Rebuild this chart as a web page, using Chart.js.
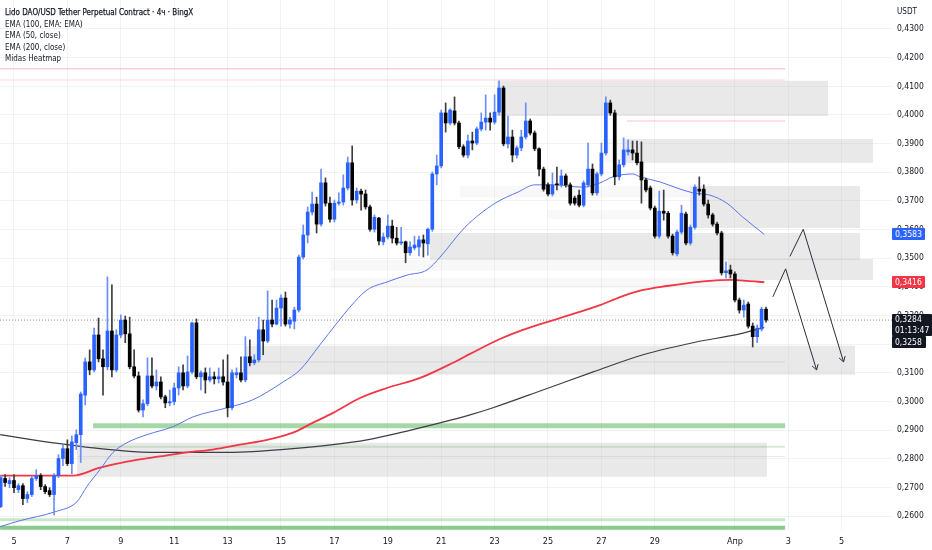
<!DOCTYPE html>
<html><head><meta charset="utf-8">
<script src="https://cdn.jsdelivr.net/npm/chart.js@4.4.1/dist/chart.umd.min.js"></script>
<style>
html,body{margin:0;padding:0;background:#fff;}
#wrap{position:relative;width:932px;height:550px;overflow:hidden;background:#fff;}
#c{position:absolute;left:0;top:0;}
.legend{position:absolute;left:5px;top:6px;font-family:'Liberation Sans Narrow','DejaVu Sans Condensed',sans-serif;font-size:9.5px;line-height:11.5px;color:#131722;white-space:nowrap;transform:scaleX(0.84);transform-origin:0 0;}
.legend .t{-webkit-text-stroke:0.25px #131722;}
.unit{position:absolute;left:897px;top:6px;font-family:'Liberation Sans Narrow','DejaVu Sans Condensed',sans-serif;font-size:9px;color:#131722;transform:scaleX(0.9);transform-origin:0 0;}
.tag{position:absolute;left:892px;box-sizing:border-box;padding-left:3px;font-family:'Liberation Sans Narrow','DejaVu Sans Condensed',sans-serif;font-size:8.5px;line-height:12px;height:12px;color:#fff;border-radius:1px;white-space:nowrap;}
</style></head>
<body>
<div id="wrap">
<canvas id="c" width="932" height="550"></canvas>
<div class="legend">
<div class="t">Lido DAO/USD Tether Perpetual Contract · 4ч · BingX</div>
<div>EMA (100, EMA: EMA)</div>
<div>EMA (50, close)</div>
<div>EMA (200, close)</div>
<div>Midas Heatmap</div>
</div>
<div class="unit">USDT</div>
<div id="tag50" class="tag" style="background:#2962ff;width:33px;"></div>
<div id="tag100" class="tag" style="background:#f23645;width:33px;"></div>
<div id="tagLast" class="tag" style="background:#131722;width:40px;height:22px;line-height:11px;"></div>
<div id="tag200" class="tag" style="background:#131722;width:34px;"></div>
</div>
<script>
// ---- candle data (4h bars, first bar = 4 Mar 12:00) ----
const firstBarDay = 4.5;
const barsPerDay = 6;
const open = [.2633,.2731,.2713,.2724,.2692,.2706,.2661,.2675,.2731,.2741,.2703,.2689,.2675,.2741,.2801,.2835,.2783,.2856,.2884,.3022,
.3138,.3110,.3232,.3149,.3121,.3246,.3110,.3232,.3284,.3236,.3121,.3089,.2970,.2992,.3089,.3054,.3068,.3016,.2995,.2999,
.3047,.3100,.3054,.3103,.3274,.3086,.3100,.3075,.3086,.3079,.3086,.3068,.2978,.3093,.3100,.3075,.3156,.3135,.3145,.3250,
.3211,.3284,.3270,.3326,.3361,.3270,.3280,.3319,.3504,.3581,.3661,.3689,.3619,.3763,.3692,.3636,.3692,.3696,.3745,.3833,
.3703,.3734,.3724,.3679,.3601,.3640,.3557,.3574,.3612,.3570,.3553,.3557,.3519,.3536,.3539,.3564,.3550,.3601,.3794,.3822,
.4007,.3972,.4014,.3972,.3889,.3860,.3909,.3902,.3951,.3975,.3989,.3975,.4010,.4094,.3899,.3923,.3860,.3885,.3923,.3979,
.3937,.3882,.3811,.3756,.3724,.3759,.3756,.3787,.3756,.3710,.3720,.3685,.3756,.3811,.3728,.3794,.3867,.4042,.4007,.3784,
.3826,.3871,.3878,.3867,.3836,.3773,.3745,.3675,.3577,.3664,.3657,.3577,.3515,.3591,.3654,.3553,.3608,.3741,.3741,.3689,
.3651,.3619,.3588,.3449,.3459,.3445,.3354,.3319,.3340,.3263,.3226,.3253,.3322];
const high = [.2741,.2745,.2734,.2745,.2713,.2713,.2685,.2738,.2762,.2748,.2710,.2699,.2748,.2814,.2849,.2866,.2880,.2901,.3033,.3152,
.3180,.3256,.3291,.3180,.3435,.3407,.3250,.3302,.3298,.3294,.3180,.3103,.3006,.3152,.3152,.3110,.3086,.3022,.3040,.3064,
.3121,.3128,.3159,.3277,.3288,.3107,.3117,.3117,.3103,.3117,.3145,.3163,.3110,.3117,.3156,.3226,.3215,.3163,.3294,.3284,
.3386,.3354,.3354,.3372,.3382,.3294,.3329,.3511,.3616,.3679,.3731,.3713,.3811,.3780,.3713,.3703,.3728,.3791,.3853,.3892,
.3745,.3741,.3738,.3685,.3651,.3643,.3588,.3651,.3633,.3608,.3608,.3560,.3557,.3577,.3577,.3581,.3605,.3801,.3860,.4017,
.4042,.4021,.4063,.3979,.3896,.3930,.3940,.3958,.4007,.4070,.4007,.4070,.4119,.4101,.3996,.3947,.3892,.3947,.4042,.3986,
.3944,.3885,.3818,.3763,.3798,.3818,.3808,.3794,.3763,.3717,.3738,.3770,.3902,.3829,.3801,.3902,.4063,.4052,.4017,.3843,
.3920,.3913,.3909,.3909,.3906,.3780,.3752,.3682,.3734,.3738,.3664,.3584,.3598,.3685,.3661,.3616,.3756,.3784,.3756,.3703,
.3657,.3626,.3594,.3487,.3476,.3452,.3361,.3354,.3347,.3274,.3267,.3329,.3329];
const low = [.2629,.2703,.2699,.2682,.2682,.2640,.2647,.2668,.2724,.2692,.2678,.2668,.2604,.2734,.2776,.2776,.2748,.2832,.2787,.2988,
.3093,.3103,.3138,.3022,.3110,.3086,.3103,.3222,.3205,.3114,.3082,.2963,.2946,.2985,.3047,.3040,.3009,.2978,.2985,.2988,
.3022,.3040,.3047,.3096,.3079,.3040,.3029,.3068,.3061,.3064,.3057,.2946,.2970,.3082,.3068,.3068,.3124,.3128,.3138,.3163,
.3205,.3260,.3267,.3263,.3263,.3256,.3253,.3312,.3497,.3553,.3651,.3588,.3612,.3682,.3626,.3626,.3685,.3685,.3738,.3685,
.3692,.3668,.3671,.3594,.3591,.3546,.3546,.3567,.3553,.3546,.3546,.3484,.3511,.3529,.3508,.3504,.3511,.3594,.3756,.3815,
.3940,.3965,.3965,.3882,.3853,.3850,.3878,.3896,.3944,.3947,.3947,.3968,.3999,.3892,.3885,.3836,.3850,.3875,.3916,.3930,
.3875,.3787,.3734,.3717,.3717,.3738,.3748,.3748,.3685,.3685,.3679,.3679,.3748,.3720,.3720,.3787,.3860,.3999,.3756,.3773,
.3818,.3860,.3843,.3826,.3692,.3731,.3668,.3570,.3570,.3633,.3570,.3511,.3508,.3584,.3546,.3546,.3601,.3720,.3682,.3640,
.3612,.3581,.3441,.3431,.3431,.3347,.3308,.3294,.3256,.3190,.3205,.3246,.3277];
const close = [.2734,.2717,.2724,.2699,.2706,.2661,.2675,.2731,.2741,.2703,.2685,.2675,.2741,.2801,.2835,.2783,.2859,.2884,.3026,.3138,
.3110,.3232,.3149,.3121,.3246,.3110,.3232,.3284,.3236,.3121,.3089,.2970,.2992,.3089,.3054,.3068,.3016,.2995,.2999,.3047,
.3100,.3054,.3103,.3274,.3086,.3100,.3075,.3086,.3079,.3086,.3068,.2978,.3100,.3100,.3075,.3156,.3135,.3145,.3250,.3211,
.3284,.3270,.3326,.3361,.3270,.3284,.3319,.3504,.3581,.3661,.3689,.3619,.3763,.3692,.3636,.3692,.3696,.3745,.3833,.3703,
.3734,.3724,.3679,.3601,.3643,.3560,.3574,.3612,.3570,.3553,.3557,.3519,.3539,.3546,.3564,.3553,.3601,.3794,.3822,.4007,
.3972,.4017,.3972,.3889,.3860,.3909,.3902,.3951,.3975,.3989,.3975,.4010,.4094,.3899,.3923,.3860,.3885,.3923,.3979,.3937,
.3882,.3811,.3741,.3724,.3756,.3756,.3787,.3756,.3692,.3692,.3685,.3763,.3811,.3728,.3794,.3867,.4042,.4007,.3784,.3826,
.3878,.3878,.3867,.3833,.3773,.3738,.3675,.3577,.3664,.3657,.3577,.3519,.3591,.3657,.3553,.3608,.3748,.3734,.3689,.3651,
.3619,.3588,.3449,.3456,.3445,.3354,.3319,.3336,.3263,.3226,.3256,.3322,.3284];

// ---- indicator lines ----
const ema50Days = [4.48,5.23,6.54,7.36,7.73,8.22,8.71,9.23,9.98,10.96,11.70,12.98,13.95,15.08,15.71,16.46,17.10,17.58,18.22,18.97,19.72,20.47,20.96,21.89,23.02,23.88,24.51,25.26,26.27,26.95,27.43,28.18,28.45,29.20,29.83,30.43,31.07,31.70,32.30,33.10];
const ema50Vals = [.2563,.2584,.2615,.2650,.2703,.2762,.2822,.2856,.2884,.2912,.2946,.2978,.3006,.3068,.3110,.3198,.3274,.3329,.3389,.3417,.3441,.3459,.3504,.3608,.3692,.3731,.3756,.3756,.3748,.3763,.3784,.3794,.3784,.3766,.3745,.3728,.3720,.3692,.3643,.3583];
const ema100Days = [4.48,5.97,7.21,8.22,9.23,10.47,11.48,12.45,13.46,14.48,15.45,16.20,16.95,17.96,18.97,20.21,21.44,22.08,23.20,24.06,25.45,26.95,27.70,28.56,29.46,30.32,31.07,31.82,32.45,33.10];
const ema100Vals = [.2741,.2741,.2741,.2769,.2790,.2808,.2822,.2832,.2849,.2866,.2891,.2926,.2960,.3012,.3047,.3082,.3135,.3166,.3218,.3250,.3291,.3336,.3364,.3389,.3403,.3414,.3421,.3424,.3421,.3416];
const ema200Days = [4.48,5.71,6.99,8.22,9.46,10.96,12.45,13.95,15.45,16.95,18.22,19.46,20.69,22.08,22.94,24.81,26.69,28.56,30.43,32.19,33.10];
const ema200Vals = [.2884,.2866,.2849,.2835,.2825,.2822,.2822,.2825,.2835,.2849,.2866,.2891,.2919,.2953,.2978,.3040,.3103,.3163,.3205,.3236,.3258];

// ---- heatmap zones ----
const zoneStart = [23.09,27.88,30.32,20.58,31.74,13.65,7.36];
const zoneEnd = [35.49,37.17,36.69,36.69,37.17,36.50,33.20];
const zoneTop = [.4119,.3916,.3752,.3588,.3497,.3194,.2856];
const zoneBottom = [.3996,.3833,.3605,.3494,.3424,.3093,.2737];
const streakStart = [16.84,16.84,21.70,24.96,27.00];
const streakEnd = [31.74,31.74,30.32,28.82,27.88];
const streakTop = [.3494,.3431,.3752,.3668,.3916];
const streakBottom = [.3456,.3396,.3712,.3636,.3833];

// ---- horizontal levels ----
const levelStart = [4.48,4.48,27.96,13.65,7.96,7.96,7.36,4.48,4.48];
const levelEnd = [33.88,33.88,33.88,33.88,33.88,33.88,33.88,33.88,33.88];
const levelVal = [.4161,.4122,.3979,.3138,.2915,.2842,.2808,.2587,.2559];

// ---- projection arrows ----
const arrow1Days = [33.42,33.90,35.06];
const arrow1Vals = [.3365,.3463,.3110];
const arrow2Days = [34.06,34.56,36.07];
const arrow2Vals = [.3506,.3601,.3138];

// ---- axes ----
const tickDays = [5,7,9,11,13,15,17,19,21,23,25,27,29,32,34,36];
const tickLabels = ['5','7','9','11','13','15','17','19','21','23','25','27','29','Апр','3','5'];
const priceTicks = [0.26,0.27,0.28,0.29,0.30,0.31,0.32,0.33,0.34,0.35,0.36,0.37,0.38,0.39,0.40,0.41,0.42,0.43];
const lastPrice = 0.3284;
const tagValues = [0.3583,0.3416,0.3284,0.3258];
const countdown = '01:13:47';

// ---- styles ----
const FONT = "'Liberation Sans Narrow','DejaVu Sans Condensed',sans-serif";
const levelColors = ['rgba(242,54,69,0.35)','rgba(242,54,69,0.2)','rgba(242,54,69,0.3)','rgba(120,120,125,0.18)','rgba(76,175,80,0.5)','rgba(76,175,80,0.22)','rgba(120,120,125,0.14)','rgba(76,175,80,0.3)','rgba(76,175,80,0.65)'];
const levelWidths = [1,1,1,1,5,2,1,3,4];
const zoneColor = 'rgba(175,175,180,0.28)';
const streakColor = 'rgba(175,175,180,0.09)';
const gridColor = 'rgba(42,46,57,0.06)';
const upBody = '#2962ff', downBody = '#000000', upWick = '#6a8ef6', downWick = '#3c3c3c';

const xMin = 4.4757, xMax = 37.884;
const yMin = 0.25478, yMax = 0.440122;

const barDay = i => firstBarDay + i / barsPerDay;
const isUp = i => close[i] >= open[i];
const pts = (ds, vs) => ds.map((d, k) => ({x: d, y: vs[k]}));

const datasets = [];
zoneStart.forEach((s, k) => datasets.push({
  type: 'line', data: [{x: s, y: zoneTop[k]}, {x: zoneEnd[k], y: zoneTop[k]}],
  borderWidth: 0, pointRadius: 0, fill: {value: zoneBottom[k]}, backgroundColor: zoneColor, order: 40
}));
streakStart.forEach((s, k) => datasets.push({
  type: 'line', data: [{x: s, y: streakTop[k]}, {x: streakEnd[k], y: streakTop[k]}],
  borderWidth: 0, pointRadius: 0, fill: {value: streakBottom[k]}, backgroundColor: streakColor, order: 39
}));
levelStart.forEach((s, k) => datasets.push({
  type: 'line', data: [{x: s, y: levelVal[k]}, {x: levelEnd[k], y: levelVal[k]}],
  borderWidth: levelWidths[k], borderColor: levelColors[k], pointRadius: 0, fill: false, order: 30
}));
datasets.push({type: 'line', data: [{x: xMin, y: lastPrice}, {x: xMax, y: lastPrice}],
  borderWidth: 1, borderColor: '#8a8d96', borderDash: [1, 2], pointRadius: 0, fill: false, order: 25});
datasets.push({type: 'line', data: pts(ema200Days, ema200Vals), borderColor: '#3d3f45', borderWidth: 1.2,
  pointRadius: 0, fill: false, cubicInterpolationMode: 'monotone', order: 12});
datasets.push({type: 'line', data: pts(ema100Days, ema100Vals), borderColor: '#f23645', borderWidth: 1.8,
  pointRadius: 0, fill: false, cubicInterpolationMode: 'monotone', order: 11});
datasets.push({type: 'line', data: pts(ema50Days, ema50Vals), borderColor: '#5a74e8', borderWidth: 1,
  pointRadius: 0, fill: false, cubicInterpolationMode: 'monotone', order: 10});
datasets.push({type: 'bar', data: open.map((o, i) => ({x: barDay(i), y: [low[i], high[i]]})),
  backgroundColor: open.map((o, i) => isUp(i) ? upWick : downWick), barThickness: 1, grouped: false, order: 4});
datasets.push({type: 'bar', data: open.map((o, i) => ({x: barDay(i), y: [Math.min(o, close[i]), Math.max(o, close[i])]})),
  backgroundColor: open.map((o, i) => isUp(i) ? upBody : downBody), barThickness: 3, minBarLength: 1, grouped: false, order: 3});
datasets.push({type: 'line', data: pts(arrow1Days, arrow1Vals), borderColor: '#2a2e39', borderWidth: 1, pointRadius: 0, fill: false, order: 1});
datasets.push({type: 'line', data: pts(arrow2Days, arrow2Vals), borderColor: '#2a2e39', borderWidth: 1, pointRadius: 0, fill: false, order: 1});

const arrowHeads = {
  id: 'arrowHeads',
  afterDatasetsDraw(chart) {
    const {ctx, scales: {x, y}} = chart;
    [[arrow1Days, arrow1Vals], [arrow2Days, arrow2Vals]].forEach(([ds, vs]) => {
      const n = ds.length;
      const x1 = x.getPixelForValue(ds[n - 1]), y1 = y.getPixelForValue(vs[n - 1]);
      const x0 = x.getPixelForValue(ds[n - 2]), y0 = y.getPixelForValue(vs[n - 2]);
      const a = Math.atan2(y1 - y0, x1 - x0), L = 6, w = 0.55;
      ctx.save();
      ctx.strokeStyle = '#2a2e39'; ctx.lineWidth = 1;
      ctx.beginPath();
      ctx.moveTo(x1 - L * Math.cos(a - w), y1 - L * Math.sin(a - w));
      ctx.lineTo(x1, y1);
      ctx.lineTo(x1 - L * Math.cos(a + w), y1 - L * Math.sin(a + w));
      ctx.stroke();
      ctx.restore();
    });
  }
};

const chart = new Chart(document.getElementById('c'), {
  type: 'bar',
  data: {datasets},
  plugins: [arrowHeads],
  options: {
    responsive: false, animation: false,
    layout: {padding: 0},
    plugins: {legend: {display: false}, tooltip: {enabled: false}, title: {display: false}},
    scales: {
      x: {
        type: 'linear', min: xMin, max: xMax, offset: false,
        grid: {color: gridColor, offset: false, drawTicks: false},
        border: {display: false},
        afterBuildTicks: s => { s.ticks = tickDays.map(v => ({value: v})); },
        afterFit: s => { s.height = 19; s.paddingLeft = 0; s.paddingRight = 0; s.paddingTop = 0; s.paddingBottom = 0; },
        ticks: {autoSkip: false, maxRotation: 0, padding: 5, color: '#131722',
          font: {size: 9, family: FONT}, callback: (v, i) => tickLabels[i]}
      },
      y: {
        type: 'linear', position: 'right', min: yMin, max: yMax,
        grid: {color: gridColor, drawTicks: false},
        border: {display: false},
        afterBuildTicks: s => { s.ticks = priceTicks.map(v => ({value: v})); },
        afterFit: s => { s.width = 40; s.paddingTop = 0; s.paddingBottom = 0; s.paddingLeft = 0; s.paddingRight = 0; },
        ticks: {padding: 5, color: '#131722', font: {size: 8.5, family: FONT},
          callback: v => Number(v).toFixed(4).replace('.', ',')}
      }
    }
  }
});

// price tags positioned with the y scale
const fmt = v => v.toFixed(4).replace('.', ',');
const ys = chart.scales.y;
const t50 = document.getElementById('tag50');
t50.textContent = fmt(tagValues[0]);
t50.style.top = (ys.getPixelForValue(tagValues[0]) - 6) + 'px';
const t100 = document.getElementById('tag100');
t100.textContent = fmt(tagValues[1]);
t100.style.top = (ys.getPixelForValue(tagValues[1]) - 6) + 'px';
const tl = document.getElementById('tagLast');
tl.innerHTML = fmt(tagValues[2]) + '<br>' + countdown;
const lastTop = ys.getPixelForValue(tagValues[2]) - 6;
tl.style.top = lastTop + 'px';
const t200 = document.getElementById('tag200');
t200.textContent = fmt(tagValues[3]);
t200.style.top = Math.max(ys.getPixelForValue(tagValues[3]) - 6, lastTop + 22) + 'px';
</script>
</body></html>
